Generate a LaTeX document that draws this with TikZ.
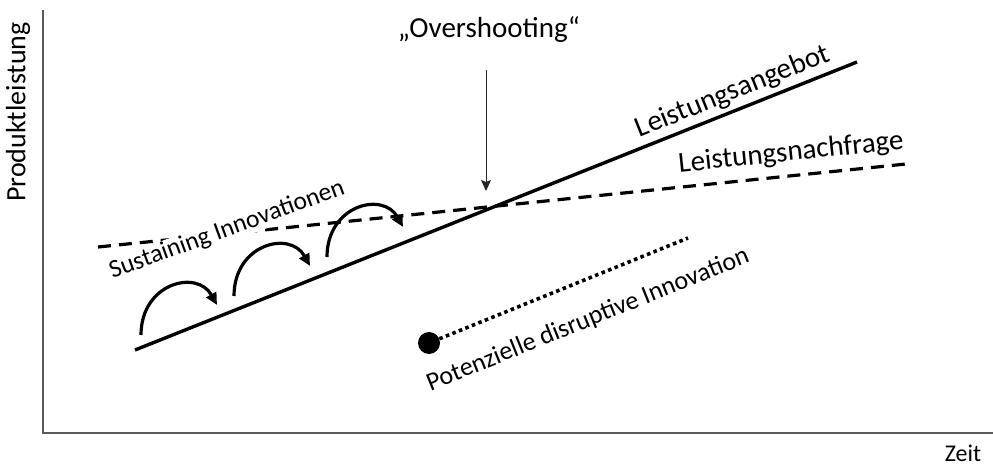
\documentclass[tikz,border=0pt]{standalone}
\usepackage{fontspec}
\setmainfont{Carlito}
\usetikzlibrary{arrows.meta,positioning,calc}
\definecolor{axisgray}{RGB}{89,89,89}
\tikzset{
  % ---- axes and curves --------------------------------------------------
  axis/.style={draw=axisgray, line width=1.2pt},
  supply/.style={draw=black, line width=3.4pt},
  demand/.style={draw=black, line width=3.2pt, dash pattern=on 13pt off 8pt},
  disrupt/.style={draw=black, line width=3.6pt, dash pattern=on 3.6pt off 3.4pt},
  % ---- arrows -----------------------------------------------------------
  jump/.style={-{Triangle[length=12pt,width=11pt]}, draw=black, line width=3.2pt},
  pointer/.style={-{Stealth[length=11pt,width=10pt,inset=2pt]}, draw=black!85, line width=1pt},
  % ---- labels -----------------------------------------------------------
  lbl/.style={font=\fontsize{26}{30}\selectfont, inner sep=1pt},
  lblb/.style={font=\fontsize{29}{33}\selectfont, inner sep=1pt},
}
\begin{document}
\begin{tikzpicture}[x=1pt,y=-1pt]
\useasboundingbox (0,0) rectangle (993,468);

% ---- axes -----------------------------------------------------------------
\coordinate (origin) at (43,433);
\coordinate (ytop)   at (43,10);
\coordinate (xend)   at (993,433);
\draw[axis] (ytop) -- (origin) -- (xend);
\node[lblb, font=\fontsize{28}{32}\selectfont, rotate=90] (ylab) at (18,112) {Produktleistung};
\node[lbl, font=\fontsize{24}{28}\selectfont] (xlab) at (963,453) {Zeit};

% ---- supply and demand ----------------------------------------------------
\coordinate (supL) at (135,350);
\coordinate (supR) at (857,62);
\coordinate (demL) at (98,247);
\coordinate (demR) at (906,164);
\draw[demand] (demL) -- (demR);
\draw[supply] (supL) -- (supR);
\node[lblb, rotate=21.8] (suplab) at (733,92) {Leistungsangebot};
\node[lblb, rotate=6] (demlab) at (791,153) {Leistungsnachfrage};

% ---- overshooting ---------------------------------------------------------
\node[lblb] (over) at (489,30) {„Overshooting“};
\coordinate (overtop) at (486,70);
\coordinate (cross)   at (486,191);
\draw[pointer] (overtop) -- (cross);

% ---- sustaining innovations -----------------------------------------------
\node[lbl, font=\fontsize{25.5}{30}\selectfont, rotate=20, fill=white] (sust) at (227,230) {Sustaining Innovationen};
\foreach \i in {0,1,2} {
  \coordinate (js\i) at ($(141,335)+\i*(93,-39)$);
  \coordinate (je\i) at ($(217,305)+\i*(93,-39)$);
  \draw[jump] (js\i) .. controls +(0,-52) and +(-20,-36) .. (je\i);
}

% ---- disruptive innovation ------------------------------------------------
\node[circle, fill=black, minimum size=22pt, inner sep=0pt] (seed) at (429,343) {};
\coordinate (disR) at (688,238);
\draw[disrupt] (seed) -- (disR);
\node[lbl, rotate=22] (dislab) at (588,320) {Potenzielle disruptive Innovation};

\end{tikzpicture}
\end{document}
